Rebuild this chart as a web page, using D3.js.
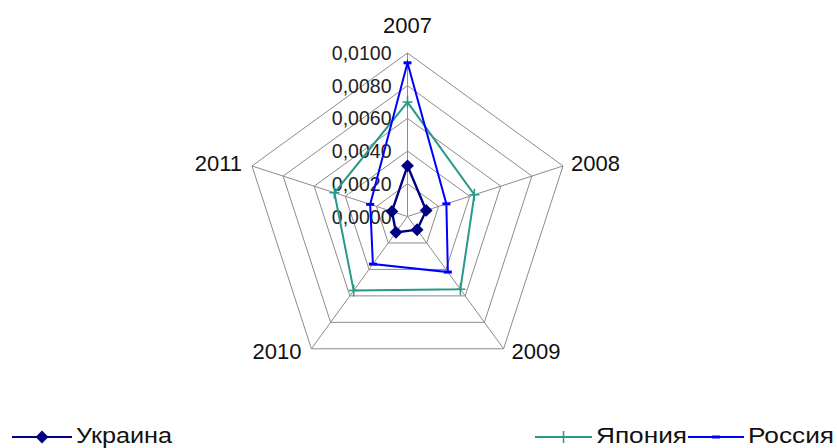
<!DOCTYPE html>
<html>
<head>
<meta charset="utf-8">
<script src="https://cdn.jsdelivr.net/npm/d3@7/dist/d3.min.js"></script>
<style>
  html, body { margin: 0; padding: 0; background: #fff; }
  svg { display: block; font-family: "Liberation Sans", Arial, sans-serif; }
</style>
</head>
<body>
<svg id="chart" width="837" height="448"></svg>
<script>
// Years on the radar axes, clockwise from the top
const years = ["2007", "2008", "2009", "2010", "2011"];
// Radial tick values and their printed labels
const tickValues = [0, 0.002, 0.004, 0.006, 0.008, 0.01];
const tickLabels = ["0,0000", "0,0020", "0,0040", "0,0060", "0,0080", "0,0100"];
// Series values, one per year
const ukraine = [0.0031, 0.0012, 0.0010, 0.0012, 0.0010];
const japan   = [0.0070, 0.0043, 0.0055, 0.0056, 0.0047];
const russia  = [0.0094, 0.0025, 0.0042, 0.0036, 0.0024];

const series = [
  { name: "Украина", values: ukraine, color: "#000080", marker: "diamond", width: 2.4 },
  { name: "Япония",  values: japan,   color: "#2a9888", marker: "plus", width: 2 },
  { name: "Россия",  values: russia,  color: "#0000ff", marker: "dash", width: 2 }
];

const svg = d3.select("#chart");
const cx = 407.5, cy = 216.5, R = 163.5;

const r = d3.scaleLinear().domain([0, 0.01]).range([0, R]);
const angle = d3.scalePoint().domain(years).range([0, 2 * Math.PI * 4 / 5]);

function pt(year, v) {
  const a = angle(year) - Math.PI / 2;
  return [cx + r(v) * Math.cos(a), cy + r(v) * Math.sin(a)];
}

const g = svg.append("g");

// Pentagonal grid rings
tickValues.filter(v => v > 0).forEach(v => {
  g.append("path")
    .attr("d", d3.line()(years.map(y => pt(y, v))) + "Z")
    .attr("fill", "none")
    .attr("stroke", "#8c8c8c")
    .attr("stroke-width", 1);
});

// Spokes
years.forEach(y => {
  const [x2, y2] = pt(y, 0.01);
  g.append("line")
    .attr("x1", cx).attr("y1", cy).attr("x2", x2).attr("y2", y2)
    .attr("stroke", "#8c8c8c").attr("stroke-width", 1);
});

// Radial value labels along the top spoke
tickValues.forEach((v, i) => {
  g.append("text")
    .attr("x", cx - 16)
    .attr("y", pt(years[0], v)[1])
    .attr("dy", "0.36em")
    .attr("text-anchor", "end")
    .attr("font-size", 19.5)
    .attr("fill", "#222")
    .text(tickLabels[i]);
});

// Year labels at the outer vertices
years.forEach(y => {
  const [x, yy] = pt(y, 0.01);
  const a = angle(y) - Math.PI / 2;
  const c = Math.cos(a), s = Math.sin(a);
  let anchor = "middle", tx = x, ty = yy;
  if (c > 0.1) { anchor = "start"; tx = x + 8; }
  else if (c < -0.1) { anchor = "end"; tx = x - 10; }
  else { ty = yy - 28; }
  if (s > 0.5) ty = yy + 2;
  else if (Math.abs(s) < 0.5 && c !== 0) ty = yy - 3;
  g.append("text")
    .attr("x", tx).attr("y", ty)
    .attr("dy", "0.36em")
    .attr("text-anchor", anchor)
    .attr("font-size", 22)
    .attr("fill", "#111")
    .text(y);
});

function drawMarker(sel, type, color, x, y) {
  if (type === "diamond") {
    sel.append("path")
      .attr("d", d3.symbol().type(d3.symbolDiamond2).size(105)())
      .attr("transform", `translate(${x},${y})`)
      .attr("fill", color);
  } else if (type === "plus") {
    sel.append("path")
      .attr("d", `M${x - 5},${y}H${x + 5}M${x},${y - 6}V${y + 6}`)
      .attr("stroke", color).attr("stroke-width", 1.5).attr("fill", "none");
  } else {
    sel.append("rect")
      .attr("x", x - 4).attr("y", y - 1.5)
      .attr("width", 8).attr("height", 3)
      .attr("fill", color);
  }
}

// Series polygons and markers
series.forEach(s => {
  const pts = years.map((y, i) => pt(y, s.values[i]));
  g.append("path")
    .attr("d", d3.line()(pts) + "Z")
    .attr("fill", "none")
    .attr("stroke", s.color)
    .attr("stroke-width", s.width);
  pts.forEach(p => drawMarker(g, s.marker, s.color, p[0], p[1]));
});

// Legend
const legendPos = [
  { x0: 12, x1: 72, tx: 76, w: 96 },
  { x0: 535, x1: 592, tx: 596, w: 91 },
  { x0: 688, x1: 744, tx: 748, w: 86 }
];
const legendY = 437;
series.forEach((s, i) => {
  const p = legendPos[i];
  svg.append("line")
    .attr("x1", p.x0).attr("x2", p.x1).attr("y1", legendY).attr("y2", legendY)
    .attr("stroke", s.color).attr("stroke-width", 2);
  drawMarker(svg, s.marker, s.color, (p.x0 + p.x1) / 2, legendY);
  svg.append("text")
    .attr("x", p.tx).attr("y", 443)
    .attr("font-size", 22)
    .attr("textLength", p.w)
    .attr("lengthAdjust", "spacingAndGlyphs")
    .attr("fill", "#111")
    .text(s.name);
});
</script>
</body>
</html>
